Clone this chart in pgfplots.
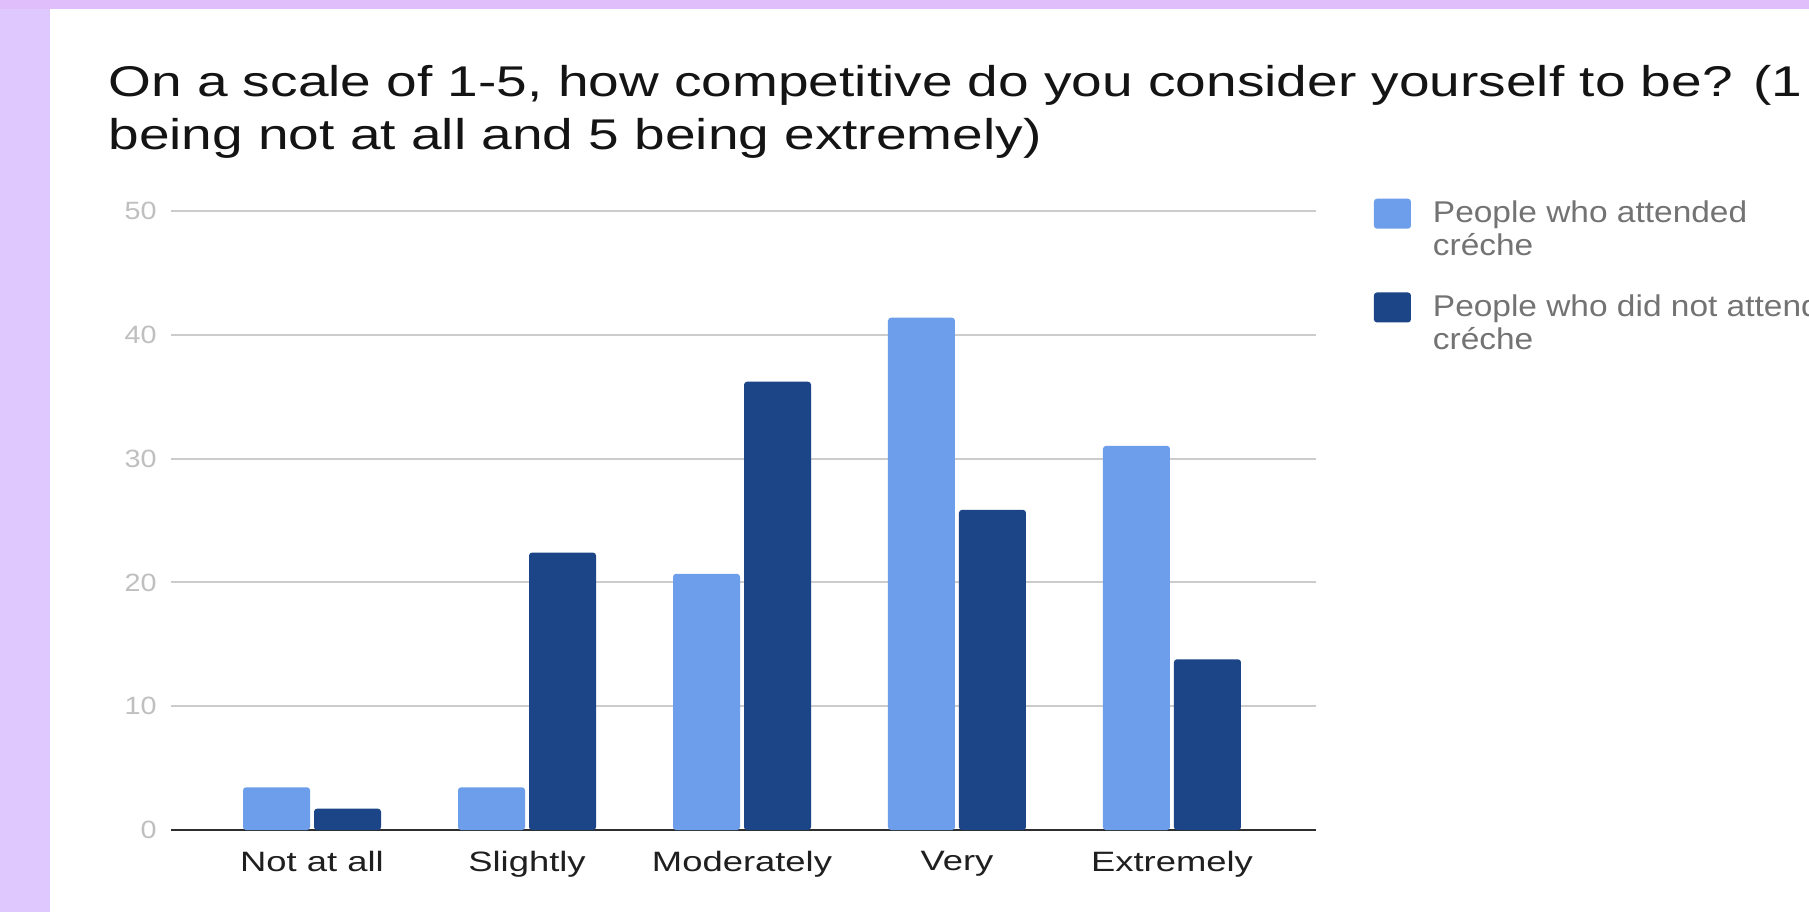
\documentclass[border=0pt]{standalone}
\usepackage{fontspec}
\setmainfont{Liberation Sans}[FakeStretch=1.15]
\newfontfamily\titlef{Liberation Sans}[FakeStretch=1.28]
\newfontfamily\xlabf{Liberation Sans}[FakeStretch=1.3]
\newfontfamily\legf{Liberation Sans}[FakeStretch=1.115]
\usepackage{pgfplots}
\pgfplotsset{compat=1.18}
\definecolor{lightb}{HTML}{6D9EEB}
\definecolor{darkb}{HTML}{1C4587}
\definecolor{lav}{HTML}{DFC8FD}
\definecolor{lavtop}{HTML}{E0BEFB}
\begin{document}
\begin{tikzpicture}
\clip (0,0) rectangle (904.5pt,456pt);
\fill[lav] (0,0) rectangle (904.5pt,456pt);
\fill[lavtop] (0,451.5pt) rectangle (904.5pt,456pt);
\fill[white] (25pt,0) rectangle (904.5pt,451.5pt);
\node[anchor=base west, inner sep=0pt, font=\titlef\fontsize{21.5}{26}\selectfont, text=black!92] at (54pt,407.5pt) {On a scale of 1-5, how competitive do you consider yourself to be? (1};
\node[anchor=base west, inner sep=0pt, font=\titlef\fontsize{21.5}{26}\selectfont, text=black!92] at (54pt,381pt) {being not at all and 5 being extremely)};
\begin{axis}[
  at={(85.5pt,41pt)}, anchor=south west,
  width=572.5pt, height=309.5pt, scale only axis,
  ybar=2pt, bar width=33.5pt,
  xmin=-0.656, xmax=4.67, ymin=0, ymax=50,
  xtick={0,1,2,3,4},
  xticklabels={Not at all,Slightly,Moderately,Very,Extremely},
  ytick={0,10,20,30,40,50},
  axis x line*=bottom, axis y line*=left,
  x axis line style={draw=black!82, line width=1.2pt, -},
  y axis line style={draw=none},
  ymajorgrids, grid style={draw=black!20, line width=1pt},
  major tick length=0pt,
  /pgf/number format/assume math mode=true,
  yticklabel style={font=\fontsize{12.5}{15}\selectfont, text=black!25, inner sep=0pt, xshift=-7pt},
  xticklabel style={font=\xlabf\fontsize{14}{17}\selectfont, text=black!88, inner sep=0pt, yshift=-10.5pt},
  legend style={at={(1.045,1.03)}, anchor=north west, draw=none, fill=none,
    font=\legf\fontsize{15}{16.5}\selectfont, text=black!55, row sep=14pt, column sep=9pt,
    nodes={align=left, anchor=west}},
  legend cell align=left,
  legend image code/.code={\fill[#1, rounded corners=1.5pt] (0pt,0.5pt) rectangle (18.5pt,15.5pt);},
]
\addplot[fill=lightb, draw=none, rounded corners=1.5pt] coordinates {(0,3.45) (1,3.45) (2,20.69) (3,41.38) (4,31.03)};
\addlegendentry{People who attended\\créche}
\addplot[fill=darkb, draw=none, rounded corners=1.5pt] coordinates {(0,1.72) (1,22.41) (2,36.21) (3,25.86) (4,13.79)};
\addlegendentry{People who did not attend\\créche}
\end{axis}
\end{tikzpicture}
\end{document}
